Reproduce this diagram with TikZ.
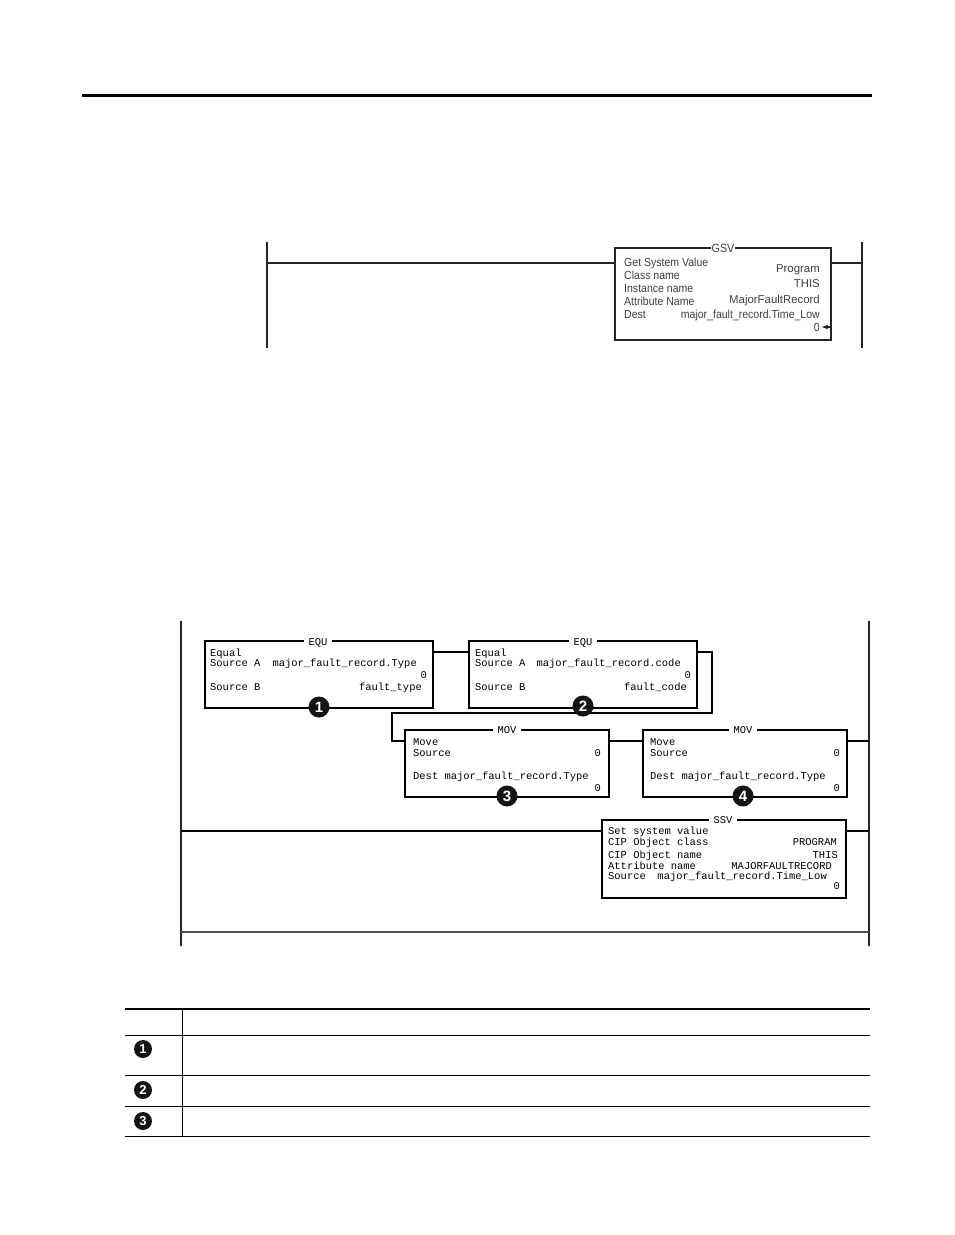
\documentclass[tikz,border=0pt]{standalone}
\usepackage{fontspec}
\setmainfont{Liberation Sans}
\newfontfamily\ladderfont{Liberation Mono}
\newfontfamily\gsvfont[FakeStretch=0.9]{Liberation Sans}
\tikzset{
  box/.style={draw=black,line width=2pt,fill=white,rectangle,inner sep=0pt,outer sep=0pt,anchor=north west},
  thinbox/.style={box,draw=black!85,line width=1.1pt},
  wire/.style={draw=black,line width=2pt},
  thinwire/.style={draw=black!85,line width=1.1pt},
  rail/.style={draw=black!85,line width=1.1pt},
  rule/.style={draw=black,line width=1pt},
  title/.style={fill=white,inner xsep=5pt,inner ysep=1pt,text=black,font=\ladderfont\fontsize{10.45}{10}\selectfont},
  gtitle/.style={fill=white,inner sep=0.5pt,text=black!75,font=\gsvfont\fontsize{12}{12}\selectfont},
  lt/.style={anchor=base west,inner sep=0pt,text=black,font=\ladderfont\fontsize{10.45}{10}\selectfont},
  rt/.style={lt,anchor=base east},
  gl/.style={anchor=base west,inner sep=0pt,text=black!75,font=\gsvfont\fontsize{11.7}{12}\selectfont},
  gr/.style={gl,anchor=base east},
  gv/.style={gr,font=\fontsize{11.4}{12}\selectfont},
  badge/.style={circle,fill=black!92,text=white,inner sep=0pt,minimum size=21pt,font=\bfseries\fontsize{15}{15}\selectfont},
  tbadge/.style={badge,minimum size=18pt,font=\bfseries\fontsize{13}{13}\selectfont},
}
\begin{document}
\begin{tikzpicture}[x=1pt,y=-1pt]
\useasboundingbox[fill=white] (0,0) rectangle (954,1235);
% page rule
\coordinate (ruleL) at (82,95); \coordinate (ruleR) at (872,95);
\draw[draw=black,line width=3pt] (ruleL) -- (ruleR);
% GSV rung
\coordinate (gl1) at (267,242); \coordinate (gl2) at (267,348);
\coordinate (gr1) at (862,242); \coordinate (gr2) at (862,348);
\draw[rail] (gl1) -- (gl2);
\draw[rail] (gr1) -- (gr2);
\node[thinbox,minimum width=216pt,minimum height=92pt] (gsv) at (615,248) {};
\coordinate (gw1) at (gl1 |- 0,263);
\coordinate (gw2) at (gr1 |- 0,263);
\draw[thinwire] (gw1) -- (gsv.west |- gw1);
\draw[thinwire] (gsv.east |- gw1) -- (gw2);
\node[gtitle] (gsvT) at (723,248) {GSV};
\node[gl] (g1) at (624,266) {Get System Value};
\node[gl] (g2) at (624,279) {Class name};
\node[gl] (g3) at (624,292) {Instance name};
\node[gl] (g4) at (624,305) {Attribute Name};
\node[gl] (g5) at (624,318) {Dest};
\node[gv] (g6) at (820,272) {Program};
\node[gv] (g7) at (820,287) {THIS};
\node[gv] (g8) at (820,303) {MajorFaultRecord};
\node[gr] (g9) at (820,318) {major\_fault\_record.Time\_Low};
\node[gr] (g10) at (820,331) {0};
\coordinate (ga1) at (830,327); \coordinate (ga2) at (821.5,327);
\draw[-latex,thinwire] (ga1) -- (ga2);
% Ladder rails
\coordinate (ll1) at (181,621); \coordinate (ll2) at (181,946);
\coordinate (lr1) at (869,621); \coordinate (lr2) at (869,946);
\draw[rail] (ll1) -- (ll2);
\draw[rail] (lr1) -- (lr2);
% boxes
\node[box,minimum width=228pt,minimum height=67pt] (equA) at (205,641) {};
\node[box,minimum width=228pt,minimum height=67pt] (equB) at (469,641) {};
\node[box,minimum width=204pt,minimum height=67pt] (movA) at (405,730) {};
\node[box,minimum width=204pt,minimum height=67pt] (movB) at (643,730) {};
\node[box,minimum width=244pt,minimum height=78pt] (ssv) at (602,820) {};
% connectors
\coordinate (y1) at (0,652); \coordinate (y2) at (0,741); \coordinate (y3) at (0,831);
\coordinate (bx) at (712,713); \coordinate (cx) at (392,713);
\draw[wire] (equA.east |- y1) -- (equB.west |- y1);
\draw[wire] (equB.east |- y1) -- (bx |- y1) -- (bx) -- (cx) -- (cx |- y2) -- (movA.west |- y2);
\draw[wire] (movA.east |- y2) -- (movB.west |- y2);
\draw[wire] (movB.east |- y2) -- (lr1 |- y2);
\draw[wire] (ll1 |- y3) -- (ssv.west |- y3);
\draw[wire] (ssv.east |- y3) -- (lr1 |- y3);
\coordinate (y4) at (0,932);
\draw[rail,draw=black!70] (ll1 |- y4) -- (lr1 |- y4);
% titles
\node[title] (tA) at (318,642.5) {EQU};
\node[title] (tB) at (583,642.5) {EQU};
\node[title] (tC) at (507,730.5) {MOV};
\node[title] (tD) at (743,730.5) {MOV};
\node[title] (tE) at (723,820.5) {SSV};
% EQU 1
\node[lt] (a1) at (210,656) {Equal};
\node[lt] (a2) at (210,666) {Source A};
\node[rt] (a3) at (417,666) {major\_fault\_record.Type};
\node[rt] (a4) at (427,678) {0};
\node[lt] (a5) at (210,690) {Source B};
\node[rt] (a6) at (422,690) {fault\_type};
% EQU 2
\node[lt] (b1) at (475,656) {Equal};
\node[lt] (b2) at (475,666) {Source A};
\node[rt] (b3) at (681,666) {major\_fault\_record.code};
\node[rt] (b4) at (691,678) {0};
\node[lt] (b5) at (475,690) {Source B};
\node[rt] (b6) at (687,690) {fault\_code};
% MOV 3
\node[lt] (c1) at (413,745) {Move};
\node[lt] (c2) at (413,756) {Source};
\node[rt] (c3) at (601,756) {0};
\node[lt] (c4) at (413,779) {Dest major\_fault\_record.Type};
\node[rt] (c5) at (601,791) {0};
% MOV 4
\node[lt] (d1) at (650,745) {Move};
\node[lt] (d2) at (650,756) {Source};
\node[rt] (d3) at (840,756) {0};
\node[lt] (d4) at (650,779) {Dest major\_fault\_record.Type};
\node[rt] (d5) at (840,791) {0};
% SSV
\node[lt] (e1) at (608,834) {Set system value};
\node[lt] (e2) at (608,845) {CIP Object class};
\node[rt] (e3) at (837,845) {PROGRAM};
\node[lt] (e4) at (608,858) {CIP Object name};
\node[rt] (e5) at (838,858) {THIS};
\node[lt] (e6) at (608,869) {Attribute name};
\node[rt] (e7) at (832,869) {MAJORFAULTRECORD};
\node[lt] (e8) at (608,879) {Source};
\node[rt] (e9) at (827,879) {major\_fault\_record.Time\_Low};
\node[rt] (e10) at (840,889) {0};
% badges
\node[badge] (n1) at (319,707) {1};
\node[badge] (n2) at (583,706) {2};
\node[badge] (n3) at (507,796) {3};
\node[badge] (n4) at (743,796) {4};
% table
\coordinate (tL) at (125,0); \coordinate (tR) at (870,0); \coordinate (tV) at (182,0);
\coordinate (r0) at (0,1009); \coordinate (r1) at (0,1035); \coordinate (r2) at (0,1075);
\coordinate (r3) at (0,1106); \coordinate (r4) at (0,1136);
\draw[draw=black,line width=2pt] (tL |- r0) -- (tR |- r0);
\draw[rule] (tL |- r1) -- (tR |- r1);
\draw[rule] (tL |- r2) -- (tR |- r2);
\draw[rule] (tL |- r3) -- (tR |- r3);
\draw[rule] (tL |- r4) -- (tR |- r4);
\draw[rule] (tV |- r0) -- (tV |- r4);
\node[tbadge] (m1) at (143,1049) {1};
\node[tbadge] (m2) at (143,1090) {2};
\node[tbadge] (m3) at (143,1121) {3};
\end{tikzpicture}
\end{document}
